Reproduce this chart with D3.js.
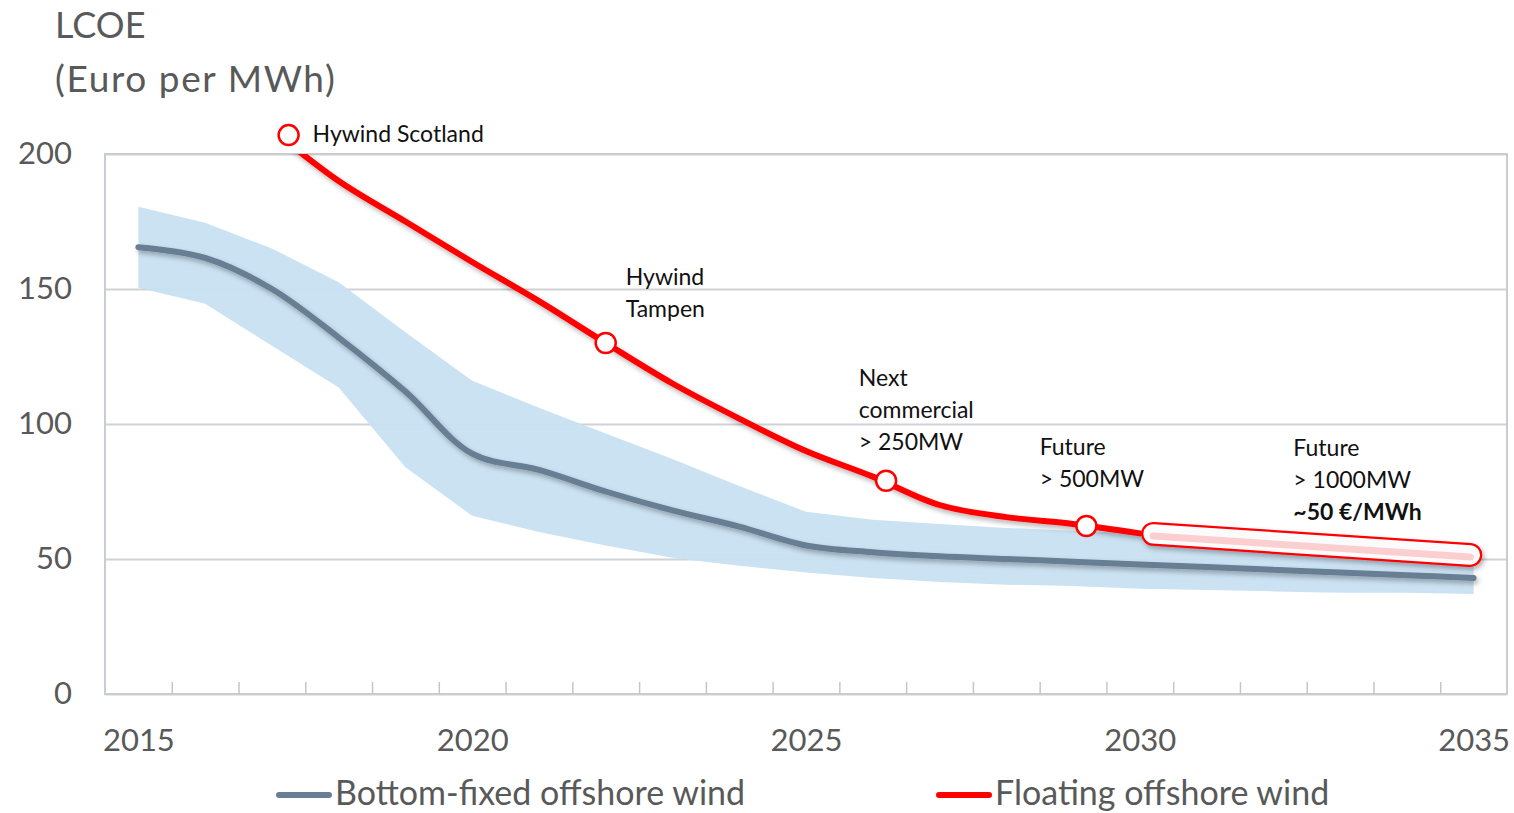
<!DOCTYPE html>
<html>
<head>
<meta charset="utf-8">
<script src="https://cdn.jsdelivr.net/npm/d3@7"></script>
<style>
    body { margin: 0; background: #fff; }
    text { font-family: Lato, "Open Sans", sans-serif; }
</style>
</head>
<body>
<div id="chart"></div>
<script>
// data
const years = [2015, 2016, 2017, 2018, 2019, 2020, 2021, 2022, 2023, 2024, 2025,
    2026, 2027, 2028, 2029, 2030, 2031, 2032, 2033, 2034, 2035];
const bottomFixed = [165.5, 161.5, 150, 132, 112, 89, 83, 75, 68, 62, 55,
    52.5, 51, 50, 49, 48, 47, 46, 45, 44, 43];
const bandUpper = [180.5, 174.5, 165, 152.5, 134, 116, 106, 96.5, 87, 77, 67.5,
    64.5, 63, 61.5, 60.5, 59.5, 58.5, 57.5, 56.5, 55.5, 54.5];
const bandLower = [150.5, 144.5, 129, 113.5, 84, 66, 60, 55, 50.5, 47.5, 45,
    43, 41.5, 40.5, 40, 39, 38.5, 38, 37.5, 37.5, 37];

const floatYears = [2017, 2018, 2019, 2020, 2021, 2022, 2023, 2024, 2025, 2026, 2027, 2028, 2029, 2030];
const floating = [209, 190, 175, 160, 145.5, 130, 115, 102, 90, 80.5, 70, 65.5, 63, 59.5];

const futureYears = [2030.2, 2034.95];
const futureValues = [59.3, 51.5];

const milestones = [
    { year: 2017.25, value: 207, lines: ["Hywind Scotland"], dx: 24, dy: 7, inline: true },
    { year: 2022, value: 130, lines: ["Hywind", "Tampen"], lx: 2022.3, ly: 151.5 },
    { year: 2026.2, value: 79, lines: ["Next", "commercial", "> 250MW"], lx: 2025.79, ly: 114 },
    { year: 2029.2, value: 62.2, lines: ["Future", "> 500MW"], lx: 2028.5, ly: 88.5 }
];
const futureNote = { lx: 2032.3, ly: 88, lines: ["Future", "> 1000MW", "~50 €/MWh"] };

const yTicks = [0, 50, 100, 150, 200];
const xLabels = [2015, 2020, 2025, 2030, 2035];
const xMinor = d3.range(2015.5, 2035, 1);

const W = 1514, H = 813;
const margin = { left: 105, right: 7, top: 154, bottom: 119 };
const width = W - margin.left - margin.right;
const height = H - margin.top - margin.bottom;

const svg = d3.select("#chart").append("svg")
    .attr("width", W)
    .attr("height", H);

const defs = svg.append("defs");
const shadow = defs.append("filter")
    .attr("id", "shadow")
    .attr("filterUnits", "userSpaceOnUse")
    .attr("x", -200).attr("y", -200)
    .attr("width", W + 400).attr("height", H + 400);
shadow.append("feDropShadow")
    .attr("dx", 2).attr("dy", 3)
    .attr("stdDeviation", 2.5)
    .attr("flood-color", "#000")
    .attr("flood-opacity", 0.3);

defs.append("clipPath").attr("id", "plot-clip")
    .append("rect")
    .attr("width", width).attr("height", height);

const g = svg.append("g")
    .attr("transform", `translate(${margin.left},${margin.top})`);

const x = d3.scaleLinear().domain([2014.5, 2035.5]).range([0, width]);
const y = d3.scaleLinear().domain([0, 200]).range([height, 0]);

// gridlines
g.append("g")
    .attr("class", "grid")
    .call(d3.axisLeft(y).tickValues(yTicks).tickSize(-width).tickFormat(""))
    .call(a => a.select(".domain").remove())
    .call(a => a.selectAll("line").attr("stroke", "#cfd2d6").attr("stroke-width", 2));

// box
g.append("rect")
    .attr("width", width).attr("height", height)
    .attr("fill", "none")
    .attr("stroke", "#c9cdd2")
    .attr("stroke-width", 2);

// minor ticks on the bottom
g.append("g")
    .attr("transform", `translate(0,${height})`)
    .call(d3.axisBottom(x).tickValues(xMinor).tickSize(-12).tickFormat(""))
    .call(a => a.select(".domain").remove())
    .call(a => a.selectAll("line").attr("stroke", "#c2c6cb").attr("stroke-width", 1.5));

// year labels
g.append("g")
    .attr("transform", `translate(0,${height})`)
    .call(d3.axisBottom(x).tickValues(xLabels).tickSize(0).tickPadding(35).tickFormat(d3.format("d")))
    .call(a => a.select(".domain").remove())
    .call(a => a.selectAll("text")
        .attr("fill", "#595959")
        .style("font-size", "31px")
        .style("font-family", "Lato, sans-serif"));

// value labels
g.append("g")
    .call(d3.axisLeft(y).tickValues(yTicks).tickSize(0).tickPadding(33))
    .call(a => a.select(".domain").remove())
    .call(a => a.selectAll("text")
        .attr("fill", "#595959")
        .style("font-size", "31px")
        .style("font-family", "Lato, sans-serif"));

// axis title
svg.append("text")
    .attr("x", 55).attr("y", 38)
    .attr("fill", "#595959")
    .style("font-size", "36px")
    .text("LCOE");
svg.append("text")
    .attr("x", 55).attr("y", 92)
    .attr("fill", "#595959")
    .style("font-size", "37px")
    .style("letter-spacing", "1.6px")
    .text("(Euro per MWh)");

// range band
const area = d3.area()
    .x((d, i) => x(years[i]))
    .y0((d, i) => y(bandLower[i]))
    .y1((d, i) => y(bandUpper[i]));

g.append("path")
    .datum(years)
    .attr("d", area)
    .attr("fill", "#c8e0f2")
    .attr("opacity", 0.95);

const plot = g.append("g").attr("clip-path", "url(#plot-clip)");

// bottom-fixed line
const lineBottom = d3.line()
    .x((d, i) => x(years[i]))
    .y(d => y(d))
    .curve(d3.curveCatmullRom.alpha(0.5));

plot.append("path")
    .datum(bottomFixed)
    .attr("d", lineBottom)
    .attr("fill", "none")
    .attr("stroke", "#687f93")
    .attr("stroke-width", 6)
    .attr("stroke-linecap", "round")
    .attr("filter", "url(#shadow)");

// floating line
const lineFloat = d3.line()
    .x((d, i) => x(floatYears[i]))
    .y(d => y(d))
    .curve(d3.curveCatmullRom.alpha(0.5));

plot.append("path")
    .datum(floating)
    .attr("d", lineFloat)
    .attr("fill", "none")
    .attr("stroke", "#ff0000")
    .attr("stroke-width", 6)
    .attr("stroke-linecap", "round")
    .attr("filter", "url(#shadow)");

// future pill
const linePill = d3.line()
    .x((d, i) => x(futureYears[i]))
    .y(d => y(d));

g.append("path")
    .datum(futureValues)
    .attr("d", linePill)
    .attr("fill", "none")
    .attr("stroke", "#ff0000")
    .attr("stroke-width", 24)
    .attr("stroke-linecap", "round")
    .attr("filter", "url(#shadow)");
g.append("path")
    .datum(futureValues)
    .attr("d", linePill)
    .attr("fill", "none")
    .attr("stroke", "#fbfbfc")
    .attr("stroke-width", 19.5)
    .attr("stroke-linecap", "round");
g.append("path")
    .datum(futureValues)
    .attr("d", linePill)
    .attr("fill", "none")
    .attr("transform", "translate(0,2)")
    .attr("stroke", "#fbcfd0")
    .attr("stroke-width", 7)
    .attr("stroke-linecap", "round");

// milestone markers and labels
milestones.forEach(m => {
    g.append("circle")
        .attr("cx", x(m.year))
        .attr("cy", y(m.value))
        .attr("r", 10)
        .attr("fill", "#fff")
        .attr("stroke", "#ff0000")
        .attr("stroke-width", 2.5);

    const tx = m.inline ? x(m.year) + m.dx : x(m.lx);
    const ty = m.inline ? y(m.value) + m.dy : y(m.ly);
    const t = g.append("text")
        .attr("x", tx).attr("y", ty)
        .attr("fill", "#111")
        .style("font-size", "23px");
    m.lines.forEach((l, i) => {
        t.append("tspan").attr("x", tx).attr("dy", i === 0 ? 0 : 32).text(l);
    });
});

const fn = g.append("text")
    .attr("x", x(futureNote.lx)).attr("y", y(futureNote.ly))
    .attr("fill", "#111")
    .style("font-size", "23px");
futureNote.lines.forEach((l, i) => {
    fn.append("tspan")
        .attr("x", x(futureNote.lx))
        .attr("dy", i === 0 ? 0 : 32)
        .style("font-weight", i === 2 ? "bold" : null)
        .text(l);
});

// legend
const legend = [
    { label: "Bottom-fixed offshore wind", color: "#687f93", x: 279 },
    { label: "Floating offshore wind", color: "#ff0000", x: 939 }
];
legend.forEach(l => {
    svg.append("line")
        .attr("x1", l.x).attr("x2", l.x + 50)
        .attr("y1", 795).attr("y2", 795)
        .attr("stroke", l.color)
        .attr("stroke-width", 6)
        .attr("stroke-linecap", "round");
    svg.append("text")
        .attr("x", l.x + 56).attr("y", 805)
        .attr("fill", "#595959")
        .style("font-size", "34px")
        .text(l.label);
});
</script>
</body>
</html>
